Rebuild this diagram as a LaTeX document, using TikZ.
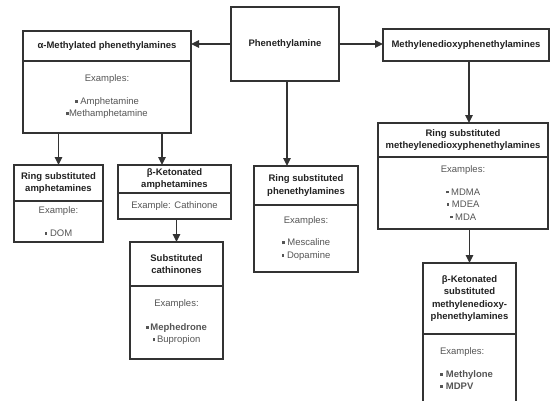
\documentclass[tikz,border=0pt]{standalone}
\usepackage{fontspec}
\setmainfont{Liberation Sans}
\usetikzlibrary{arrows.meta,positioning}
\definecolor{boxline}{RGB}{51,51,51}
\definecolor{headtext}{RGB}{34,34,34}
\definecolor{bodytext}{RGB}{85,85,85}
\newcommand{\bul}{\rule[0.18em]{2.8pt}{2.8pt}}

\begin{document}
\begin{tikzpicture}[
    x=1pt, y=1pt,
    head/.style={
        rectangle, draw=boxline, line width=1.2pt, outer sep=0pt,
        align=center, inner sep=2pt, text=headtext,
        font=\fontsize{9.5}{12.5}\selectfont\bfseries
    },
    body/.style={
        rectangle, draw=boxline, line width=1.2pt, outer sep=0pt,
        align=center, inner sep=2pt, text=bodytext,
        font=\fontsize{9.5}{12.5}\selectfont
    },
    arrow/.style={-{Triangle[length=8pt,width=7.5pt]}, line width=1.4pt, boxline}
]

\useasboundingbox (0,0) rectangle (550,-400);
\clip (0,0) rectangle (550,-400);

% Root
\node[head, minimum width=108, minimum height=74] (phen) at (285,-44) {Phenethylamine};

% Left branch
\node[head, minimum width=168, minimum height=30] (alpha) at (107,-46) {α-Methylated phenethylamines};
\node[body, minimum width=168, minimum height=72, below=0pt of alpha] (alphaex)
    {Examples:\\[10pt]\bul\ Amphetamine\\\bul Methamphetamine};

\node[head, minimum width=89, minimum height=36] (rsamph) at (58.5,-183) {Ring substituted\\amphetamines};
\node[body, minimum width=89, minimum height=41, below=0pt of rsamph] (rsamphex)
    {Example:\\[11pt]\bul\ DOM};

\node[head, minimum width=113, minimum height=28] (bkamph) at (174.5,-179) {β-Ketonated\\amphetamines};
\node[body, minimum width=113, minimum height=26, below=0pt of bkamph] (bkamphex)
    {Example: Cathinone};

\node[head, minimum width=93, minimum height=44] (subcath) at (176.5,-264) {Substituted\\cathinones};
\node[body, minimum width=93, minimum height=73, below=0pt of subcath] (subcathex)
    {Examples:\\[11pt]\bul\,\textbf{Mephedrone}\\\bul\,Bupropion};

% Middle branch
\node[head, minimum width=104, minimum height=39] (rsphen) at (306,-185.5) {Ring substituted\\phenethylamines};
\node[body, minimum width=104, minimum height=67, below=0pt of rsphen] (rsphenex)
    {Examples:\\[10pt]\bul\ Mescaline\\\bul\ Dopamine};

% Right branch
\node[head, minimum width=166, minimum height=32] (md) at (466,-45) {Methylenedioxyphenethylamines};

\node[head, minimum width=170, minimum height=34] (rsmd) at (463,-140) {Ring substituted\\metheylenedioxyphenethylamines};
\node[body, minimum width=170, minimum height=72, below=0pt of rsmd] (rsmdex)
    {Examples:\\[10pt]\bul\ MDMA\\\bul\ MDEA\\\bul\ MDA};

\node[head, minimum width=93, minimum height=71] (bkmd) at (469.5,-298.5) {β-Ketonated\\substituted\\methylenedioxy-\\phenethylamines};
\node[body, align=left, text width=59, inner xsep=17, minimum height=70, below=0pt of bkmd] (bkmdex)
    {Examples:\\[10pt]\bul\ \textbf{Methylone}\\\bul\ \textbf{MDPV}};

% Arrows
\draw[arrow] (phen.west) -- (alpha.east |- phen.west);
\draw[arrow] (phen.east) -- (md.west |- phen.east);
\draw[arrow] ([xshift=2pt]phen.south) -- ([xshift=2pt]phen.south |- rsphen.north);
\draw[arrow] ([xshift=3pt]md.south) -- ([xshift=3pt]md.south |- rsmd.north);
\draw[arrow] (bkmd.north |- rsmdex.south) -- (bkmd.north);

\coordinate (split) at ([xshift=55pt]alphaex.south);
\draw[arrow] (rsamph.north |- alphaex.south) -- (rsamph.north);
\draw[arrow] (split) -- (split |- bkamph.north);
\draw[arrow] (subcath.north |- bkamphex.south) -- (subcath.north);

\end{tikzpicture}
\end{document}
